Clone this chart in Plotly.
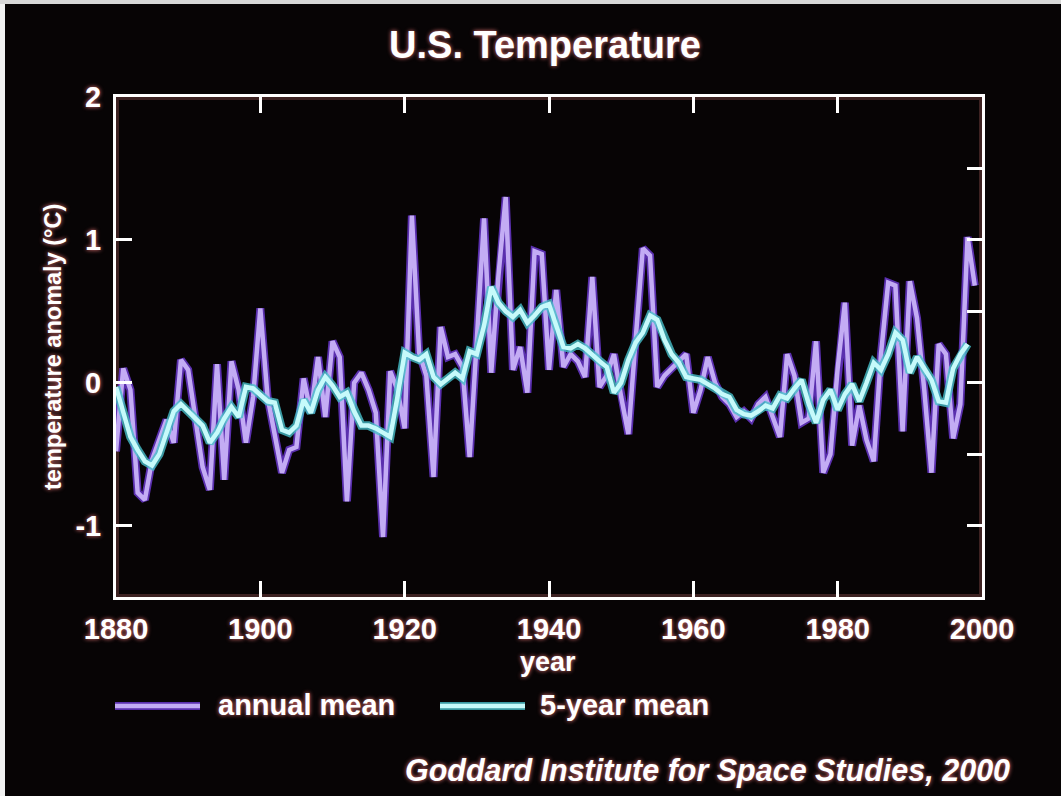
import plotly.graph_objects as go

years = list(range(1880, 2000))
annual_mean = [
    -0.48, 0.10, -0.05, -0.77, -0.82, -0.54, -0.40, -0.26, -0.42, 0.16,   # 1880s
    0.09, -0.25, -0.59, -0.75, 0.13, -0.68, 0.15, -0.05, -0.42, -0.10,    # 1890s
    0.52, -0.10, -0.35, -0.63, -0.47, -0.45, 0.03, -0.21, 0.18, -0.24,    # 1900s
    0.29, 0.18, -0.83, 0.00, 0.07, -0.05, -0.21, -1.08, 0.08, -0.05,      # 1910s
    -0.32, 1.17, 0.21, 0.05, -0.66, 0.39, 0.18, 0.20, 0.11, -0.52,        # 1920s
    0.30, 1.15, 0.07, 0.75, 1.30, 0.09, 0.25, -0.07, 0.92, 0.90,          # 1930s
    0.09, 0.65, 0.11, 0.20, 0.15, 0.04, 0.74, -0.03, 0.05, 0.20,          # 1940s
    -0.10, -0.36, 0.30, 0.94, 0.89, -0.03, 0.05, 0.10, 0.15, 0.20,        # 1950s
    -0.21, -0.05, 0.18, 0.00, -0.10, -0.15, -0.24, -0.20, -0.25, -0.15,   # 1960s
    -0.10, -0.25, -0.38, 0.20, 0.05, -0.28, -0.25, 0.29, -0.63, -0.50,    # 1970s
    0.10, 0.56, -0.44, -0.16, -0.40, -0.55, 0.20, 0.70, 0.68, -0.34,      # 1980s
    0.71, 0.45, -0.05, -0.63, 0.27, 0.20, -0.39, -0.15, 1.02, 0.68,       # 1990s
]

years_5yr = list(range(1880, 1999))
five_year_mean = [
    -0.03, -0.20, -0.38, -0.47, -0.55, -0.58, -0.50, -0.35, -0.20, -0.15,
    -0.20, -0.26, -0.30, -0.42, -0.35, -0.25, -0.17, -0.24, -0.03, -0.04,
    -0.08, -0.13, -0.14, -0.33, -0.35, -0.30, -0.12, -0.21, -0.05, 0.04,
    -0.02, -0.10, -0.07, -0.20, -0.30, -0.30, -0.32, -0.35, -0.38, -0.10,
    0.21, 0.18, 0.16, 0.20, 0.04, -0.01, 0.03, 0.07, 0.03, 0.22,
    0.20, 0.40, 0.67, 0.56, 0.50, 0.46, 0.51, 0.42, 0.47, 0.53,
    0.55, 0.39, 0.25, 0.24, 0.27, 0.24, 0.19, 0.15, 0.11, -0.07,
    0.00, 0.16, 0.28, 0.35, 0.47, 0.44, 0.30, 0.20, 0.14, 0.04,
    0.03, 0.02, -0.01, -0.04, -0.08, -0.10, -0.19, -0.22, -0.23, -0.20,
    -0.16, -0.18, -0.09, -0.11, -0.04, 0.02, -0.15, -0.28, -0.12, -0.05,
    -0.19, -0.08, -0.01, -0.13, 0.00, 0.14, 0.09, 0.20, 0.35, 0.30,
    0.07, 0.18, 0.10, 0.02, -0.13, -0.14, 0.10, 0.20, 0.27,
]

x_ticks = [1880, 1900, 1920, 1940, 1960, 1980, 2000]
y_ticks = [-1, 0, 1, 2]
y_minor_ticks = [-1, -0.5, 0, 0.5, 1, 1.5]

# ---- layout geometry (pixels) ----
W, H = 1061, 796
L, R, T, B = 116, 79, 97, 199
PW, PH = W - L - R, H - T - B


def px(xp):
    return (xp - L) / PW


def py(yp):
    return (H - B - yp) / PH


FONT = "Liberation Sans, Arial, Helvetica, sans-serif"
GLOW = "0px 0px 4px rgba(255,130,130,0.9)"
BG = "#070405"

PURPLE_GLOW = "rgba(105,55,205,0.85)"
PURPLE = "#c3acf4"
CYAN_GLOW = "rgba(70,190,200,0.8)"
CYAN = "#c6fafa"

fig = go.Figure()

# annual mean: glow + core
fig.add_trace(go.Scatter(x=years, y=annual_mean, mode="lines",
                         line=dict(color=PURPLE_GLOW, width=8),
                         hoverinfo="skip", showlegend=False))
fig.add_trace(go.Scatter(x=years, y=annual_mean, mode="lines", name="annual mean",
                         line=dict(color=PURPLE, width=4.5), showlegend=False))
# 5-year mean: glow + core
fig.add_trace(go.Scatter(x=years_5yr, y=five_year_mean, mode="lines",
                         line=dict(color=CYAN_GLOW, width=8.5),
                         hoverinfo="skip", showlegend=False))
fig.add_trace(go.Scatter(x=years_5yr, y=five_year_mean, mode="lines", name="5-year mean",
                         line=dict(color=CYAN, width=4.5), showlegend=False))
# invisible trace to activate right axis
fig.add_trace(go.Scatter(x=[years[0]], y=[annual_mean[0]], yaxis="y2", mode="lines",
                         line=dict(width=0), hoverinfo="skip", showlegend=False))

tickfont = dict(family=FONT, size=29, color="white", weight="bold", shadow=GLOW)

fig.update_layout(
    width=W, height=H,
    margin=dict(l=L, r=R, t=T, b=B),
    paper_bgcolor=BG, plot_bgcolor=BG,
    title=dict(text="U.S. Temperature", x=545 / W, xref="container", xanchor="center",
               y=1 - 45 / H, yref="container", yanchor="middle",
               font=dict(family=FONT, size=38, color="white", weight="bold", shadow=GLOW)),
    xaxis=dict(range=[1880, 2000], tickvals=x_ticks, ticktext=[str(v) for v in x_ticks],
               ticks="inside", ticklen=16, tickwidth=3, tickcolor="white",
               showline=True, linewidth=3, linecolor="white", mirror="ticks",
               showgrid=False, zeroline=False, tickfont=tickfont, ticklabelstandoff=4),
    yaxis=dict(range=[-1.5, 2], tickvals=y_ticks, ticktext=[str(v) for v in y_ticks],
               ticks="inside", ticklen=16, tickwidth=3, tickcolor="white",
               showline=True, linewidth=3, linecolor="white",
               showgrid=False, zeroline=False, tickfont=tickfont, ticklabelstandoff=6),
    yaxis2=dict(range=[-1.5, 2], overlaying="y", side="right", tickvals=y_minor_ticks,
                ticks="inside", ticklen=15, tickwidth=3, tickcolor="white",
                showline=True, linewidth=3, linecolor="white", showticklabels=False,
                showgrid=False, zeroline=False),
    showlegend=False,
)


def label(text, x, y, size, xanchor="center", angle=0):
    fig.add_annotation(text=text, x=px(x), y=py(y), xref="paper", yref="paper",
                       xanchor=xanchor, yanchor="middle", textangle=angle,
                       showarrow=False,
                       font=dict(family=FONT, size=size, color="white",
                                 weight="bold", shadow=GLOW))


label("temperature anomaly (°C)", 53, 347, 23.5, angle=-90)
label("year", 548, 662, 27)
label("annual mean", 216, 705, 29, xanchor="left")
label("5-year mean", 538, 705, 29, xanchor="left")
label("<i>Goddard Institute for Space Studies, 2000</i>", 1012, 770, 30.5, xanchor="right")

shapes = [
    # frame glow
    dict(type="rect", xref="paper", yref="paper", x0=0, x1=1, y0=0, y1=1,
         line=dict(color="rgba(255,140,140,0.22)", width=6), layer="below"),
    # legend samples
    dict(type="line", xref="paper", yref="paper", x0=px(115), x1=px(200), y0=py(706), y1=py(706),
         line=dict(color=PURPLE_GLOW, width=8)),
    dict(type="line", xref="paper", yref="paper", x0=px(115), x1=px(200), y0=py(706), y1=py(706),
         line=dict(color=PURPLE, width=4.5)),
    dict(type="line", xref="paper", yref="paper", x0=px(440), x1=px(525), y0=py(706), y1=py(706),
         line=dict(color=CYAN_GLOW, width=8)),
    dict(type="line", xref="paper", yref="paper", x0=px(440), x1=px(525), y0=py(706), y1=py(706),
         line=dict(color=CYAN, width=4.5)),
    # photo borders
    dict(type="rect", xref="paper", yref="paper", x0=px(0), x1=px(5), y0=py(H), y1=py(0),
         line=dict(width=0), fillcolor="#f2f2f2"),
    dict(type="rect", xref="paper", yref="paper", x0=px(0), x1=px(W), y0=py(4), y1=py(0),
         line=dict(width=0), fillcolor="#d8d8d8"),
]
fig.update_layout(shapes=shapes)

fig.write_html("out.html")
